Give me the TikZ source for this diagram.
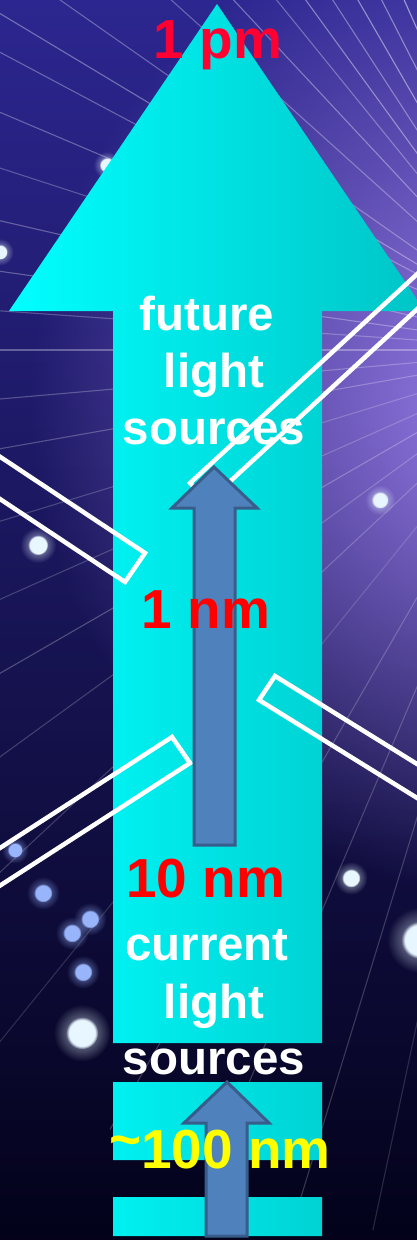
\documentclass[tikz,border=0pt]{standalone}
\usepackage{fontspec}
\setmainfont{Liberation Sans}
\usepackage{tikz}
\usetikzlibrary{fadings}
\definecolor{skytop}{HTML}{2C2690}
\definecolor{skymid}{HTML}{1C1670}
\definecolor{skybot}{HTML}{03021A}
\definecolor{glowviolet}{HTML}{A083F0}
\definecolor{beamcyan}{HTML}{00FFFF}
\definecolor{beamteal}{HTML}{00C4C6}
\definecolor{stepfill}{HTML}{4F81BD}
\definecolor{stepline}{HTML}{385D8A}
\definecolor{pmred}{HTML}{FF0033}
\definecolor{nmred}{HTML}{FF0000}
\definecolor{uvyellow}{HTML}{FFFF00}
\definecolor{dotpale}{HTML}{E8F6FF}
\definecolor{dotblue}{HTML}{98B4FA}

\tikzfading[name=glowfade, inner color=transparent!0, outer color=transparent!100]

\begin{document}
\begin{tikzpicture}[x=1pt, y=-1pt,
    bigtext/.style={font=\bfseries\fontsize{55}{60}\selectfont, anchor=base, inner sep=0pt},
    srctext/.style={white, font=\bfseries\fontsize{47.5}{57}\selectfont, anchor=base, inner sep=0pt},
    slit/.style={draw=white, line width=4.5pt},
    stepup/.style={fill=stepfill, draw=stepline, line width=3pt},
    ray/.style={white, line width=1.1pt},
    bokeh/.style={path fading=circle with fuzzy edge 20 percent},
    halo/.style={path fading=glowfade, opacity=.7}]
  \useasboundingbox (0,0) rectangle (417,1240);
  \clip (0,0) rectangle (417,1240);

  % Background
  \shade[top color=skytop, middle color=skymid, bottom color=skybot] (0,0) rectangle (417,1240);
  \fill[glowviolet, path fading=glowfade] (530,400) circle (500pt);

  % Rays
  \foreach \a/\o in {108/.45,111/.35,114/.5,117/.4,120/.45,123/.35,126/.4,129/.3,
                     133/.35,138/.3,145/.3,149/.35,152/.3,157/.3,162/.25,167/.3,
                     172/.3,176/.25,180/.3,185/.25,190/.25,197/.2,204/.2,210/.25,
                     216/.2,223/.2,231/.15,240/.2,247/.2,253/.2,258/.15,263/.15} {
    \draw[ray, opacity=\o] (560,350) -- ++(\a:900pt);
  }

  % Bokeh dots
  \foreach \px/\py/\r/\c in {107/165/9/dotpale, 0/252/9/dotpale, 38/545/12/dotpale,
                             380/500/10/dotpale, 15/850/9/dotblue, 43/893/11/dotblue,
                             72/933/11/dotblue, 90/919/11/dotblue, 83/972/11/dotblue,
                             82/1033/19/dotpale, 351/878/11/dotpale, 420/940/22/dotpale} {
    \fill[\c, halo] (\px,\py) circle (1.5*\r pt);
    \fill[\c, bokeh] (\px,\py) circle (0.85*\r pt);
  }

  % Big cyan arrow
  \shade[left color=beamcyan, right color=beamteal]
    (217,4) -- (425,311) -- (322,311) -- (322,1043) -- (113,1043) -- (113,311) -- (9,311) -- cycle
    (113,1082) rectangle (322,1160)
    (113,1197) rectangle (322,1236);

  % Slits
  \draw[slit] (190,483) -- (207.6,502.1) -- (502,231) -- (484.4,212.2) -- cycle;
  \draw[slit] (145,553) -- (125,582) -- (-125,416) -- (-105,387) -- cycle;
  \draw[slit] (172,737) -- (190,763) -- (-62,925.6) -- (-80,899.6) -- cycle;
  \draw[slit] (275,676) -- (259,700) -- (514,858) -- (530,834) -- cycle;

  % Small blue arrows
  \draw[stepup] (214,467) -- (257,508) -- (235,508) -- (235,845) -- (194,845) -- (194,508) -- (172,508) -- cycle;
  \draw[stepup] (227,1082) -- (269,1123) -- (247,1123) -- (247,1236) -- (206,1236) -- (206,1123) -- (184,1123) -- cycle;

  % Labels
  \node[bigtext, pmred] (pm) at (218,58) {1 pm};
  \node[srctext] (futureA) at (207,330) {future};
  \node[srctext] (lightA) at (214,387) {light};
  \node[srctext] (sourcesA) at (214,444) {sources};
  \node[bigtext, nmred] (onenm) at (206,628) {1 nm};
  \node[bigtext, nmred] (tennm) at (205.5,897) {10 nm};
  \node[srctext] (currentB) at (207,960) {current};
  \node[srctext] (lightB) at (214,1018) {light};
  \node[srctext] (sourcesB) at (214,1074) {sources};
  \node[bigtext, uvyellow] (uvnm) at (220,1168) {\raisebox{.18em}{\textasciitilde}100 nm};
\end{tikzpicture}
\end{document}
